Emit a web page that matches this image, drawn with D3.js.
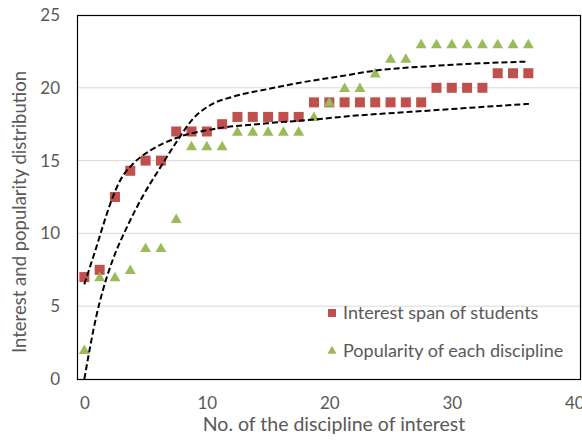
<!DOCTYPE html>
<html>
<head>
<meta charset="utf-8">
<script src="https://cdn.jsdelivr.net/npm/d3@7"></script>
<style>
  body { margin: 0; background: #fff; }
  text { font-family: Lato, "Open Sans", sans-serif; fill: #595959; }
</style>
</head>
<body>
<svg id="chart" width="582" height="441"></svg>
<script>
// x positions of the disciplines
const xValues = [0, 1.25, 2.5, 3.75, 5, 6.25, 7.5, 8.75, 10, 11.25, 12.5, 13.75, 15, 16.25, 17.5,
  18.75, 20, 21.25, 22.5, 23.75, 25, 26.25, 27.5, 28.75, 30, 31.25, 32.5, 33.75, 35, 36.25];

const interestSpan = [7, 7.5, 12.5, 14.3, 15, 15, 17, 17, 17, 17.5, 18, 18, 18, 18, 18,
  19, 19, 19, 19, 19, 19, 19, 19, 20, 20, 20, 20, 21, 21, 21];

const popularity = [2, 7, 7, 7.5, 9, 9, 11, 16, 16, 16, 17, 17, 17, 17, 17,
  18, 19, 20, 20, 21, 22, 22, 23, 23, 23, 23, 23, 23, 23, 23];

// trend curves, [x, y]
const interestTrend = [[0, 6.5], [0.5, 7.8], [1, 9.1], [1.55, 10.6], [2.1, 12], [2.9, 13.6], [4, 14.8],
  [5.4, 15.7], [7.5, 16.55], [10.8, 17.2], [14.9, 17.56], [19, 17.84], [21.7, 18.06], [25.8, 18.3], [36.3, 18.9]];

const popularityTrend = [[0, 0], [0.47, 2.2], [1, 4.4], [1.55, 6.2], [2.37, 8.3], [3.46, 10.4], [4.8, 12.6],
  [6.18, 14.5], [7.54, 16.3], [8.9, 17.9], [10.26, 18.8], [12.17, 19.4], [14.9, 19.9], [17.6, 20.35],
  [21.7, 20.9], [23.05, 21.1], [28.5, 21.5], [36.1, 21.8]];

const xTicks = [0, 10, 20, 30, 40];
const yTicks = [0, 5, 10, 15, 20, 25];
const seriesNames = ["Interest span of students", "Popularity of each discipline"];
const colors = ["#C0504D", "#9BBB59"];

const svg = d3.select("#chart");
const plotLeft = 77, plotRight = 581, plotTop = 15, plotBottom = 379;

const x = d3.scaleLinear().domain([-0.6, 40.55]).range([plotLeft, plotRight]);
const y = d3.scaleLinear().domain([0, 25]).range([plotBottom, plotTop]);

// gridlines
svg.append("g")
  .selectAll("line")
  .data(yTicks.filter(d => d > 0 && d < 25))
  .enter()
  .append("line")
  .attr("x1", plotLeft).attr("x2", plotRight)
  .attr("y1", d => y(d)).attr("y2", d => y(d))
  .attr("stroke", "#d9d9d9").attr("stroke-width", 1);

// y axis labels
const yAxis = d3.axisLeft(y).tickValues(yTicks).tickSize(0).tickPadding(17);
svg.append("g")
  .attr("transform", `translate(${plotLeft},0)`)
  .call(yAxis)
  .call(g => g.select(".domain").remove())
  .selectAll("text")
  .style("font-size", "17px")
  .attr("fill", "#595959");

// x axis labels
const xAxis = d3.axisBottom(x).tickValues(xTicks).tickSize(0).tickPadding(18);
svg.append("g")
  .attr("transform", `translate(0,${plotBottom})`)
  .call(xAxis)
  .call(g => g.select(".domain").remove())
  .selectAll("text")
  .style("font-size", "17px")
  .attr("fill", "#595959");

// plot border
svg.append("rect")
  .attr("x", plotLeft + 0.5).attr("y", plotTop + 0.5)
  .attr("width", plotRight - plotLeft - 1).attr("height", plotBottom - plotTop)
  .attr("fill", "none").attr("stroke", "#000").attr("stroke-width", 1.2);

// points
const squareData = xValues.map((d, i) => ({ x: d, y: interestSpan[i] }));
const triData = xValues.map((d, i) => ({ x: d, y: popularity[i] }));

svg.append("g")
  .selectAll("rect")
  .data(squareData)
  .enter()
  .append("rect")
  .attr("x", d => x(d.x) - 5)
  .attr("y", d => y(d.y) - 5)
  .attr("width", 10).attr("height", 10)
  .attr("fill", colors[0]);

const tri = d3.symbol().type(d3.symbolTriangle).size(52);
svg.append("g")
  .selectAll("path")
  .data(triData)
  .enter()
  .append("path")
  .attr("d", tri)
  .attr("transform", d => `translate(${x(d.x)},${y(d.y) + 1})`)
  .attr("fill", colors[1]);

// trend lines
const line = d3.line()
  .x(d => x(d[0]))
  .y(d => y(d[1]))
  .curve(d3.curveMonotoneX);

[interestTrend, popularityTrend].forEach(t => {
  svg.append("path")
    .attr("d", line(t))
    .attr("fill", "none")
    .attr("stroke", "#000")
    .attr("stroke-width", 2)
    .attr("stroke-dasharray", "6,3");
});

// legend
const legend = svg.append("g").attr("transform", "translate(332,0)");
legend.append("rect")
  .attr("x", -4).attr("y", 309).attr("width", 8).attr("height", 8)
  .attr("fill", colors[0]);
legend.append("path")
  .attr("d", d3.symbol().type(d3.symbolTriangle).size(36))
  .attr("transform", "translate(0,351)")
  .attr("fill", colors[1]);
legend.selectAll("text")
  .data(seriesNames)
  .enter()
  .append("text")
  .attr("x", 11)
  .attr("y", (d, i) => 313 + i * 38)
  .attr("dy", "0.35em")
  .style("font-size", "18px")
  .text(d => d);

// axis titles
svg.append("text")
  .attr("x", 334).attr("y", 431)
  .attr("text-anchor", "middle")
  .style("font-size", "19.5px")
  .text("No. of the discipline of interest");

svg.append("text")
  .attr("transform", "translate(20,212) rotate(-90)")
  .attr("text-anchor", "middle")
  .attr("dy", "0.35em")
  .style("font-size", "18.5px")
  .text("Interest and popularity distribution");
</script>
</body>
</html>
